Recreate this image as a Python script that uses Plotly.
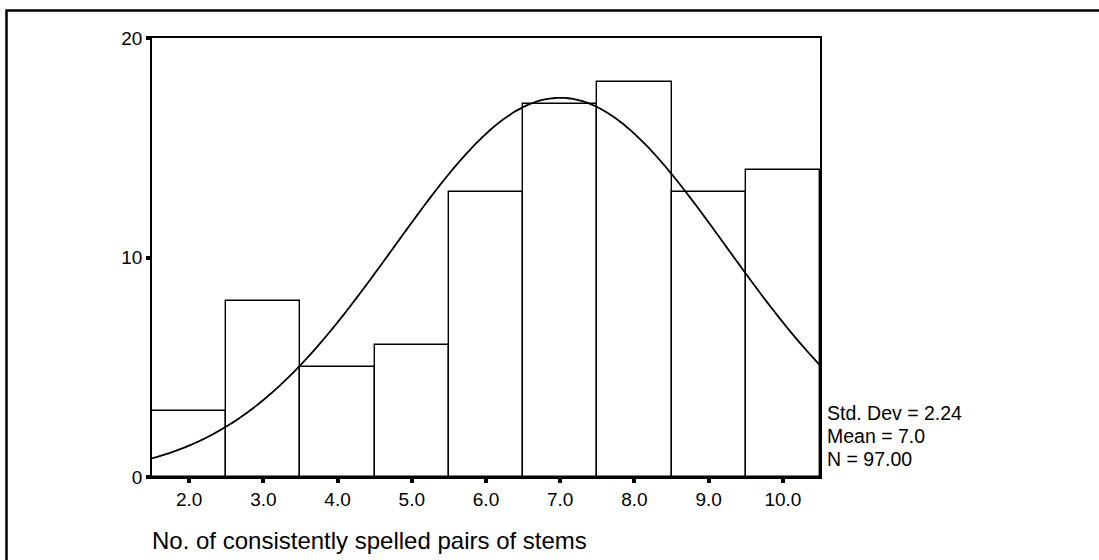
import numpy as np
import plotly.graph_objects as go

# Data
bin_centers = [2.0, 3.0, 4.0, 5.0, 6.0, 7.0, 8.0, 9.0, 10.0]
counts = [3, 8, 5, 6, 13, 17, 18, 13, 14]
tick_vals_x = [2.0, 3.0, 4.0, 5.0, 6.0, 7.0, 8.0, 9.0, 10.0]
tick_text_x = ["2.0", "3.0", "4.0", "5.0", "6.0", "7.0", "8.0", "9.0", "10.0"]
tick_vals_y = [0, 10, 20]

# Summary statistics printed on the chart (the fitted normal curve uses them)
STD_DEV = 2.24
MEAN = 7.0
N = 97.00
BIN_WIDTH = 1.0
stats_text = ["Std. Dev = 2.24", "Mean = 7.0", "N = 97.00"]
x_title = "No. of consistently spelled pairs of stems"

# Fitted normal curve: N * bin width * normal pdf(mean, sd)
curve_x = np.linspace(1.5, 10.5, 200)
curve_y = N * BIN_WIDTH / (STD_DEV * np.sqrt(2 * np.pi)) * np.exp(-0.5 * ((curve_x - MEAN) / STD_DEV) ** 2)

W, H = 1099, 560
L, R, T, B = 152, 820, 38, 477
pw, ph = R - L, B - T

def px_x(p):
    return (p - L) / pw

def px_y(p):
    return (B - p) / ph

fig = go.Figure()
fig.add_trace(go.Bar(
    x=bin_centers, y=counts, width=BIN_WIDTH,
    marker=dict(color="white", line=dict(color="black", width=1.4)),
    showlegend=False, hoverinfo="skip",
))
fig.add_trace(go.Scatter(
    x=curve_x, y=curve_y, mode="lines",
    line=dict(color="black", width=1.8, shape="spline"),
    showlegend=False, hoverinfo="skip",
))

FONT = "Liberation Sans, Arial, sans-serif"

fig.update_layout(
    width=W, height=H,
    margin=dict(l=L, r=W - R, t=T, b=H - B, pad=0),
    paper_bgcolor="white", plot_bgcolor="white",
    font=dict(family=FONT, color="black", size=19),
    bargap=0,
    xaxis=dict(
        range=[1.5, 10.5], tickvals=tick_vals_x, ticktext=tick_text_x,
        ticks="outside", ticklen=4, tickwidth=4, tickcolor="black",
        showline=True, mirror=True, linecolor="black", linewidth=1.6,
        showgrid=False, zeroline=False, tickfont=dict(size=19, family=FONT),
    ),
    yaxis=dict(
        range=[0, 20], tickvals=tick_vals_y,
        ticks="outside", ticklen=4, tickwidth=4, tickcolor="black",
        showline=True, mirror=True, linecolor="black", linewidth=1.6,
        showgrid=False, zeroline=False, tickfont=dict(size=19, family=FONT),
    ),
)

# Outer frame (only top and left sides are visible in the picture)
fig.add_shape(type="rect", xref="paper", yref="paper",
              x0=px_x(6.5), x1=px_x(1120), y0=px_y(580), y1=px_y(10.5),
              line=dict(color="black", width=2.5), layer="above")

# X-axis title
fig.add_annotation(text=x_title, xref="paper", yref="paper",
                   x=px_x(150), y=px_y(540), xanchor="left", yanchor="middle",
                   showarrow=False, font=dict(size=24, family=FONT))

# Statistics text
for s, yp in zip(stats_text, [413, 436, 459]):
    fig.add_annotation(text=s, xref="paper", yref="paper",
                       x=px_x(825), y=px_y(yp), xanchor="left", yanchor="middle",
                       showarrow=False, font=dict(size=19.5, family=FONT))

fig.write_html("out.html")
